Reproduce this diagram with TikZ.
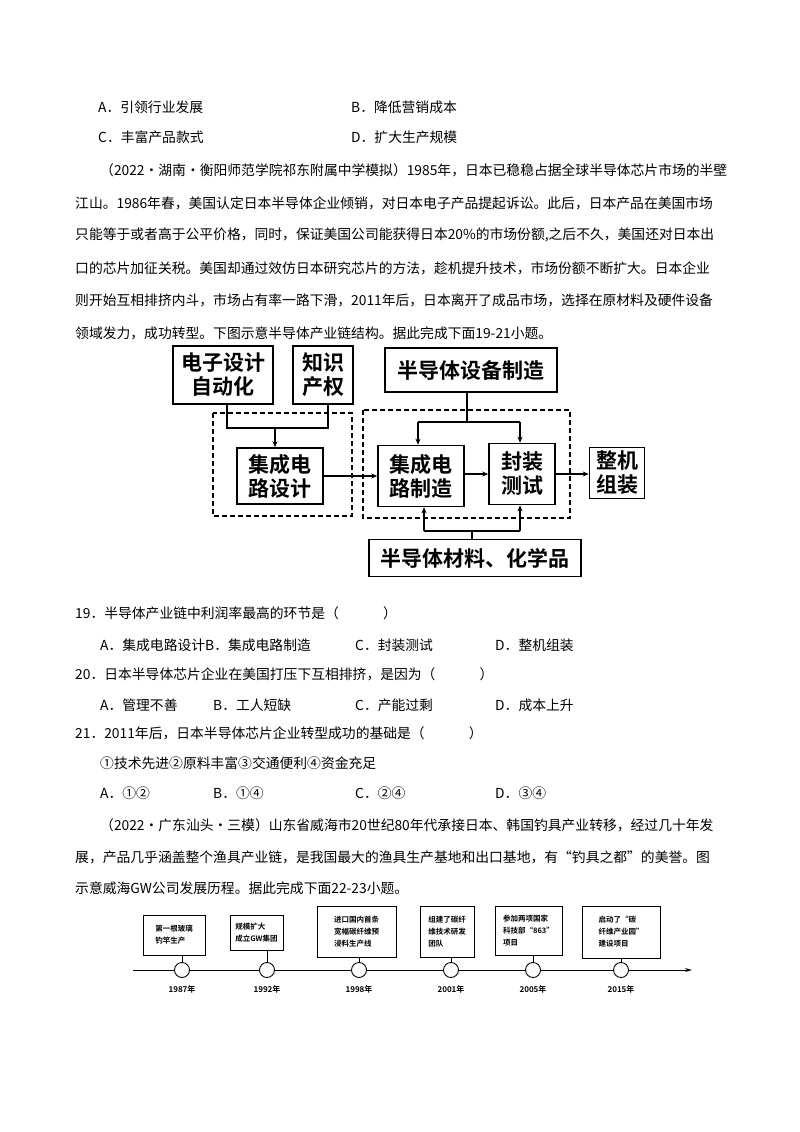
\documentclass[tikz,border=0pt]{standalone}
\usepackage{fontspec}
\setmainfont{Liberation Serif}
\newfontfamily\cjk{Noto Sans CJK SC}
\newfontfamily\cjkb{Noto Sans CJK SC Bold}
\usetikzlibrary{arrows.meta}
\begin{document}
\begin{tikzpicture}[x=1pt,y=-1pt,
  txt/.style={anchor=west,inner sep=0pt,font=\cjk\fontsize{13.8}{14}\selectfont},
  bx/.style={draw,line width=1.6pt,inner sep=0pt,font=\cjkb\fontsize{21}{24}\selectfont,align=center},
  dsh/.style={draw,dash pattern=on 5pt off 3pt,line width=1.3pt},
  ar/.style={line width=1.3pt,-{Stealth[length=6pt,width=5pt]}},
  ln/.style={line width=1.3pt},
  tb/.style={draw,line width=0.9pt,inner sep=0pt,font=\cjkb\fontsize{7.5}{12}\selectfont,align=left},
  yr/.style={font=\cjkb\fontsize{8}{8}\selectfont,inner sep=0pt}]
\useasboundingbox (0,0) rectangle (800,1132);
\fill[white] (0,0) rectangle (800,1132);
% text
\node[txt] (t1) at (98,107) {A．引领行业发展};
\node[txt] (t2) at (351,107) {B．降低营销成本};
\node[txt] (t3) at (98,137) {C．丰富产品款式};
\node[txt] (t4) at (351,137) {D．扩大生产规模};
\node[txt] (p1) at (100,170) {（2022·湖南·衡阳师范学院祁东附属中学模拟）1985年，日本已稳稳占据全球半导体芯片市场的半壁};
\node[txt] (p2) at (75,203) {江山。1986年春，美国认定日本半导体企业倾销，对日本电子产品提起诉讼。此后，日本产品在美国市场};
\node[txt] (p3) at (75,235) {只能等于或者高于公平价格，同时，保证美国公司能获得日本20\%的市场份额,之后不久，美国还对日本出};
\node[txt] (p4) at (75,268) {口的芯片加征关税。美国却通过效仿日本研究芯片的方法，趁机提升技术，市场份额不断扩大。日本企业};
\node[txt] (p5) at (75,300) {则开始互相排挤内斗，市场占有率一路下滑，2011年后，日本离开了成品市场，选择在原材料及硬件设备};
\node[txt] (p6) at (75,333) {领域发力，成功转型。下图示意半导体产业链结构。据此完成下面19-21小题。};
\node[txt] (q1) at (75,613) {19．半导体产业链中利润率最高的环节是（\hspace{3.2em}）};
\node[txt] (q1a) at (100,645) {A．集成电路设计B．集成电路制造};
\node[txt] (q1c) at (355,645) {C．封装测试};
\node[txt] (q1d) at (495,645) {D．整机组装};
\node[txt] (q2) at (75,674) {20．日本半导体芯片企业在美国打压下互相排挤，是因为（\hspace{3.2em}）};
\node[txt] (q2a) at (100,705) {A．管理不善};
\node[txt] (q2b) at (213,705) {B．工人短缺};
\node[txt] (q2c) at (355,705) {C．产能过剩};
\node[txt] (q2d) at (495,705) {D．成本上升};
\node[txt] (q3) at (75,733) {21．2011年后，日本半导体芯片企业转型成功的基础是（\hspace{3.2em}）};
\node[txt] (q3s) at (100,763) {①技术先进②原料丰富③交通便利④资金充足};
\node[txt] (q3a) at (100,793) {A．①②};
\node[txt] (q3b) at (213,793) {B．①④};
\node[txt] (q3c) at (355,793) {C．②④};
\node[txt] (q3d) at (495,793) {D．③④};
\node[txt] (r1) at (100,825) {（2022·广东汕头·三模）山东省威海市20世纪80年代承接日本、韩国钓具产业转移，经过几十年发};
\node[txt] (r2) at (75,857) {展，产品几乎涵盖整个渔具产业链，是我国最大的渔具生产基地和出口基地，有“钓具之都”的美誉。图};
\node[txt] (r3) at (75,888) {示意威海GW公司发展历程。据此完成下面22-23小题。};
% diagram 1
\draw[dsh] (213,413) rectangle (352,516);
\draw[dsh] (363,410) rectangle (570,518);
\node[bx,minimum width=100pt,minimum height=58pt] (eda) at (223,375) {电子设计\\自动化};
\node[bx,minimum width=60pt,minimum height=58pt] (ip) at (323,375) {知识\\产权};
\node[bx,minimum width=172pt,minimum height=44pt] (eq) at (471,370) {半导体设备制造};
\node[bx,minimum width=86pt,minimum height=56pt] (des) at (280,476) {集成电\\路设计};
\node[bx,minimum width=86pt,minimum height=61pt] (mfg) at (421,476) {集成电\\路制造};
\node[bx,minimum width=66pt,minimum height=61pt] (pkg) at (522,474) {封装\\测试};
\node[bx,minimum width=55pt,minimum height=51pt] (asm) at (617,473) {整机\\组装};
\node[bx,minimum width=212pt,minimum height=37pt] (mat) at (475,558) {半导体材料、化学品};
\coordinate (j1) at (227,428);
\coordinate (j2) at (328,428);
\draw[ln] (eda.south -| j1) -- (j1) -- (j2) -- (ip.south -| j2);
\draw[ar] (275,428) -- (des.north -| 275,0);
\coordinate (k) at (467,422);
\draw[ln] (eq.south -| k) -- (k);
\draw[ln] (418,422) -- (520,422);
\draw[ar] (418,422) -- (mfg.north -| 418,0);
\draw[ar] (520,422) -- (pkg.north -| 520,0);
\coordinate (m) at (472,531);
\draw[ln] (mat.north -| m) -- (m);
\draw[ln] (424,531) -- (520,531);
\draw[ar] (424,531) -- (mfg.south -| 424,0);
\draw[ar] (520,531) -- (pkg.south -| 520,0);
\draw[ar] (des.east) -- (mfg.west |- des.east);
\draw[ar] (mfg.east |- pkg.east) -- (pkg.west);
\draw[ar] (pkg.east) -- (asm.west |- pkg.east);
% timeline
\coordinate (ax0) at (133,970);
\coordinate (ax1) at (692,970);
\draw[line width=0.9pt,-{Stealth[length=7pt,width=4pt]}] (ax0) -- (ax1);
\foreach \n/\x/\y in {c1/182/1987年,c2/267/1992年,c3/359/1998年,c4/451/2001年,c5/533/2005年,c6/621/2015年}{
  \node[draw,circle,fill=white,line width=0.9pt,minimum size=15pt,inner sep=0pt] (\n) at (\x,970) {};
  \node[yr] at (\x,989) {\y};
}
\node[tb,minimum width=62pt,minimum height=40pt] (b1) at (174,935) {第一根玻璃\\钓竿生产};
\node[tb,minimum width=53pt,minimum height=35pt] (b2) at (256.5,932.5) {规模扩大\\成立GW集团};
\node[tb,minimum width=79pt,minimum height=51pt] (b3) at (356.5,931.5) {进口国内首条\\宽幅碳纤维预\\浸料生产线};
\node[tb,minimum width=54pt,minimum height=51pt] (b4) at (447,931.5) {组建了碳纤\\维技术研发\\团队};
\node[tb,minimum width=67pt,minimum height=49pt] (b5) at (528.5,930.5) {参加两项国家\\科技部“863”\\项目};
\node[tb,minimum width=78pt,minimum height=52pt] (b6) at (621,932) {启动了“碳\\纤维产业园”\\建设项目};
\foreach \b/\c in {b1/c1,b2/c2,b3/c3,b4/c4,b5/c5,b6/c6}{
  \draw[line width=0.9pt] (\b.south -| \c) -- (\c.north);
}
\end{tikzpicture}
\end{document}
